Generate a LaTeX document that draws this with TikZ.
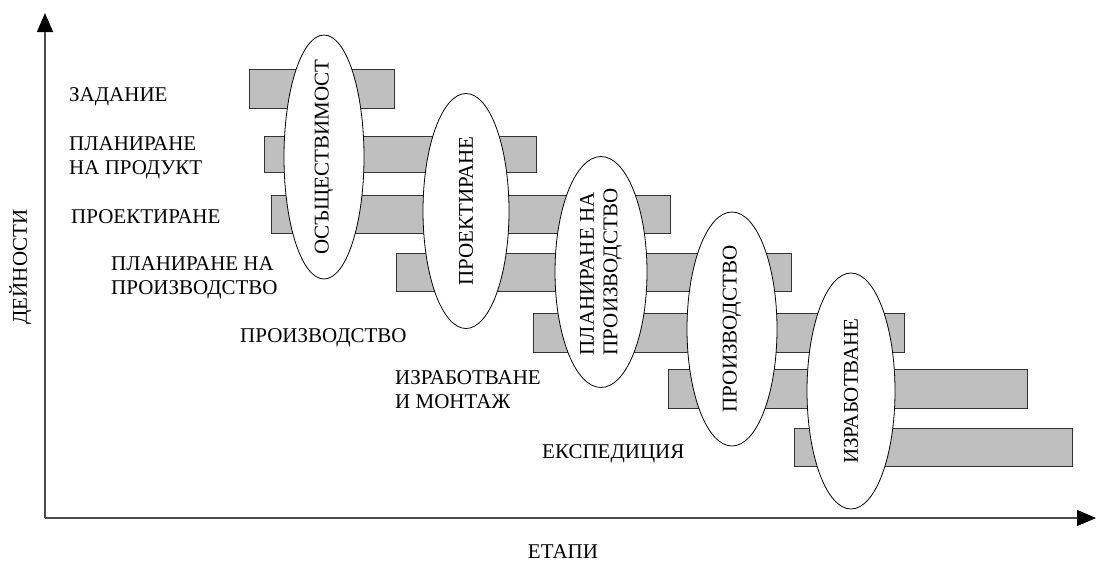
\documentclass[tikz,border=0pt]{standalone}
\usepackage{fontspec}
\setmainfont{Liberation Serif}
\usetikzlibrary{arrows.meta,shapes.geometric}

\tikzset{
  bar/.style={draw=black!80, fill=black!25, line width=0.9pt},
  stage/.style={draw, fill=white, ellipse, inner sep=0pt, line width=0.8pt},
  lbl/.style={anchor=base west, inner sep=0pt, align=left},
  axis/.style={draw=black!70, line width=1.2pt, -{Triangle[length=19pt,width=16pt,color=black]}}
}

\begin{document}
\begin{tikzpicture}[x=1pt, y=-1pt, font=\fontsize{21}{23.5}\selectfont]
    \useasboundingbox (0,0) rectangle (1097,562);
    % axes
    \coordinate (o) at (45,518);
    \coordinate (top) at (45,13);
    \coordinate (right) at (1096,518);
    \draw[axis] (o) -- (top);
    \draw[axis] (o) -- (right);
    \node[rotate=90, anchor=base, inner sep=0pt] (dein) at (27,267) {ДЕЙНОСТИ};
    \node[anchor=base, inner sep=0pt] (etapi) at (563,558) {ЕТАПИ};
    % bars
    \draw[bar] (249,69) rectangle (394,108);
    \draw[bar] (264,136) rectangle (536,172);
    \draw[bar] (271,195) rectangle (670,233);
    \draw[bar] (396,253) rectangle (791,291);
    \draw[bar] (533,313) rectangle (904,352);
    \draw[bar] (668,369) rectangle (1027,408);
    \draw[bar] (794,428) rectangle (1072,466);
    % activities
    \node[lbl] (zad) at (69,101) {ЗАДАНИЕ};
    \node[lbl] (plprod) at (69,174) {ПЛАНИРАНЕ\\НА ПРОДУКТ};
    \node[lbl] (proekt) at (71,223) {ПРОЕКТИРАНЕ};
    \node[lbl] (plproizv) at (111,294) {ПЛАНИРАНЕ НА\\ПРОИЗВОДСТВО};
    \node[lbl] (proizv) at (240,342) {ПРОИЗВОДСТВО};
    \node[lbl] (izrab) at (395,408) {ИЗРАБОТВАНЕ\\И МОНТАЖ};
    \node[lbl] (eksp) at (542,458) {ЕКСПЕДИЦИЯ};
    % stages
    \node[stage, minimum width=80pt, minimum height=244pt] (s1) at (324,157) {};
    \node[rotate=90] (s1t) at (s1) {ОСЪЩЕСТВИМОСТ};
    \node[stage, minimum width=86pt, minimum height=235pt] (s2) at (466,211) {};
    \node[rotate=90] (s2t) at (s2) {ПРОЕКТИРАНЕ};
    \node[stage, minimum width=92pt, minimum height=231pt] (s3) at (601,272) {};
    \node[rotate=90, align=left] (s3t) at (s3) {ПЛАНИРАНЕ НА\\ПРОИЗВОДСТВО};
    \node[stage, minimum width=90pt, minimum height=234pt] (s4) at (732,329) {};
    \node[rotate=90] (s4t) at (s4) {ПРОИЗВОДСТВО};
    \node[stage, minimum width=88pt, minimum height=236pt] (s5) at (851,391) {};
    \node[rotate=90] (s5t) at (s5) {ИЗРАБОТВАНЕ};
\end{tikzpicture}
\end{document}
